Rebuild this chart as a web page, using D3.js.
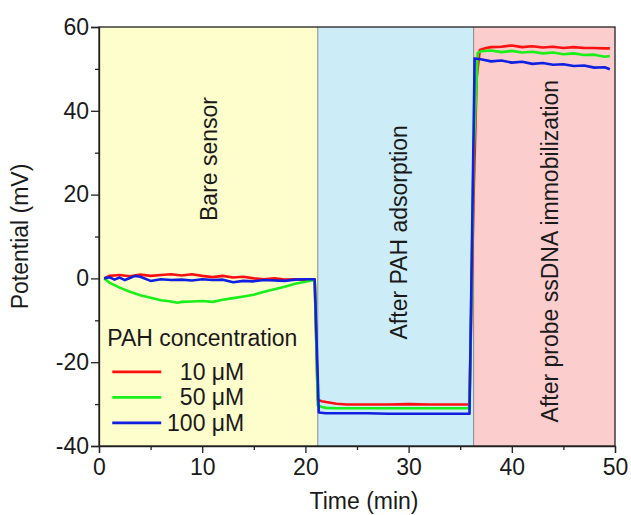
<html>
<head>
<meta charset="utf-8">
<script src="https://d3js.org/d3.v7.min.js"></script>
<style>
  body { margin: 0; background: #fff; }
  text { font-family: Arial, "Liberation Sans", sans-serif; fill: #1a1a1a; }
  .axis path, .axis line { stroke: #222; stroke-width: 1.3; }
</style>
</head>
<body>
<svg id="chart" width="631" height="515"></svg>
<script>
// ---- data ----
const regionNames = ["Bare sensor", "After PAH adsorption", "After probe ssDNA immobilization"];
const regionBounds = [0, 21.2, 36.3, 50];
const regionColors = ["#fefdcc", "#ccedf8", "#fbcdcd"];

const seriesNames = ["10 \u03bcM", "50 \u03bcM", "100 \u03bcM"];
const seriesColors = ["#ff1010", "#19ef19", "#1020e0"];

const tRed = [0.5,1,2,3,4,5,6,7,8,9,10,11,12,13,14,15,16,17,18,19,20,20.9,
  21.2,21.6,22,23,24,26,28,30,32,34,35.9,36.3,36.6,36.9,37.5,38,39,40,41,42,43,44,45,46,47,48,49,49.5];
const vRed = [0,0.6,0.8,0.5,0.9,0.6,0.8,1.0,0.7,1.0,0.6,0.3,0.6,0.2,0.4,0,-0.2,0,-0.3,-0.2,-0.4,-0.3,
  -29.0,-29.3,-29.5,-29.9,-30.1,-30.1,-30.1,-30.0,-30.1,-30.1,-30.1,20,48,54.5,55.0,55.2,55.3,55.6,55.2,55.4,55.1,55.3,55.0,55.2,55.0,55.0,54.9,54.9];

const tGreen = [0.5,1,2,3,4,5,6,7,7.6,8,9,10,11,12,13,14,15,16,17,18,19,20,20.9,
  21.2,21.6,22,23,24,26,28,30,32,34,35.9,36.3,36.7,37,38,39,40,41,42,43,44,45,46,47,48,49,49.5];
const vGreen = [0,-1.0,-2.2,-3.2,-4.0,-4.6,-5.2,-5.5,-5.8,-5.6,-5.5,-5.4,-5.6,-5.1,-4.7,-4.3,-3.9,-3.2,-2.6,-2.0,-1.3,-0.8,-0.3,
  -30.3,-30.7,-30.9,-31.0,-31.0,-31.0,-31.0,-31.0,-31.0,-31.0,-31.0,30,53.8,54.2,54.4,54.0,54.3,53.9,54.1,53.7,53.9,53.5,53.7,53.3,53.4,52.9,53.1];

const tBlue = [0.5,1,1.5,2,2.5,3,3.5,4,5,6,7,8,9,10,11,12,13,14,15,16,17,18,19,20,20.9,
  21.3,22,24,26,28,30,32,34,35.9,36.4,37,38,39,40,41,42,43,44,45,46,47,48,49,49.5];
const vBlue = [0,0.3,-0.3,0.2,-0.4,0.1,0.6,0.4,-0.6,-0.2,-0.4,-0.3,-0.5,-0.2,-0.4,-0.3,-0.9,-0.6,-0.7,-0.4,-0.5,-0.6,-0.3,-0.2,-0.2,
  -32.0,-32.2,-32.2,-32.2,-32.3,-32.3,-32.3,-32.3,-32.3,52.5,52.3,51.8,52.0,51.5,51.7,51.2,51.4,51.0,51.1,50.7,50.8,50.3,50.4,49.9];

const xMajor = [0, 10, 20, 30, 40, 50];
const xMinor = [5, 15, 25, 35, 45];
const yMajor = [-40, -20, 0, 20, 40, 60];
const yMinor = [-30, -10, 10, 30, 50];

// ---- layout ----
const svg = d3.select("#chart");
const margin = {top: 27, right: 16, bottom: 69, left: 99};
const width = 631 - margin.left - margin.right;
const height = 515 - margin.top - margin.bottom;
const fs = "23px";

const x = d3.scaleLinear().domain([0, 50]).range([0, width]);
const y = d3.scaleLinear().domain([-40, 60]).range([height, 0]);

const g = svg.append("g").attr("transform", "translate(" + margin.left + "," + margin.top + ")");

// background regions
regionNames.forEach((name, i) => {
  g.append("rect")
    .attr("x", x(regionBounds[i]))
    .attr("y", 0)
    .attr("width", x(regionBounds[i + 1]) - x(regionBounds[i]))
    .attr("height", height)
    .attr("fill", regionColors[i]);
});
regionBounds.slice(1, 3).forEach(b => {
  g.append("line")
    .attr("x1", x(b)).attr("x2", x(b))
    .attr("y1", 0).attr("y2", height)
    .attr("stroke", "#8a8a8a").attr("stroke-width", 1);
});

// region labels (rotated)
const labelPos = [{t: 10.7, v: 28.5}, {t: 29.1, v: 11}, {t: 43.7, v: 6.5}];
regionNames.forEach((name, i) => {
  g.append("text")
    .attr("transform", "translate(" + (x(labelPos[i].t) + 8) + "," + y(labelPos[i].v) + ") rotate(-90)")
    .attr("text-anchor", "middle")
    .style("font-size", fs)
    .text(name);
});

// lines
const line = d3.line().x(d => x(d[0])).y(d => y(d[1]));
const series = [
  d3.zip(tRed, vRed),
  d3.zip(tGreen, vGreen),
  d3.zip(tBlue, vBlue)
];
series.forEach((s, i) => {
  g.append("path")
    .datum(s)
    .attr("d", line)
    .attr("fill", "none")
    .attr("stroke", seriesColors[i])
    .attr("stroke-width", 2.6)
    .attr("stroke-linejoin", "round");
});

// axes
const fmt = d => String(d);
g.append("g").attr("class", "axis")
  .attr("transform", "translate(0," + height + ")")
  .call(d3.axisBottom(x).tickValues(xMajor).tickSize(7).tickPadding(6).tickFormat(fmt))
  .call(a => a.selectAll("text").style("font-size", fs));
g.append("g").attr("class", "axis")
  .attr("transform", "translate(0," + height + ")")
  .call(d3.axisBottom(x).tickValues(xMinor).tickSize(4).tickFormat(""))
  .call(a => a.select(".domain").remove());

g.append("g").attr("class", "axis")
  .call(d3.axisLeft(y).tickValues(yMajor).tickSize(8).tickPadding(2).tickFormat(fmt))
  .call(a => a.selectAll("text").style("font-size", fs));
g.append("g").attr("class", "axis")
  .call(d3.axisLeft(y).tickValues(yMinor).tickSize(4).tickFormat(""))
  .call(a => a.select(".domain").remove());

// frame
g.append("rect")
  .attr("width", width).attr("height", height)
  .attr("fill", "none").attr("stroke", "#222").attr("stroke-width", 1.3);

// axis titles
svg.append("text")
  .attr("x", margin.left + width / 2 + 7)
  .attr("y", 509)
  .attr("text-anchor", "middle")
  .style("font-size", fs)
  .text("Time (min)");
svg.append("text")
  .attr("transform", "translate(28," + (margin.top + height / 2) + ") rotate(-90)")
  .attr("text-anchor", "middle")
  .style("font-size", fs)
  .text("Potential (mV)");

// legend
const legend = g.append("g").attr("transform", "translate(" + (x(0.8)) + "," + y(-16.1) + ")");
legend.append("text").attr("x", 0).attr("y", 0).style("font-size", fs).text("PAH concentration");
seriesNames.forEach((name, i) => {
  const yy = 26 + i * 25.5;
  legend.append("line")
    .attr("x1", 5).attr("x2", 54)
    .attr("y1", yy).attr("y2", yy)
    .attr("stroke", seriesColors[i]).attr("stroke-width", 2.6);
  legend.append("text")
    .attr("x", 137).attr("y", yy + 8)
    .attr("text-anchor", "end")
    .style("font-size", fs)
    .text(name);
});
</script>
</body>
</html>
